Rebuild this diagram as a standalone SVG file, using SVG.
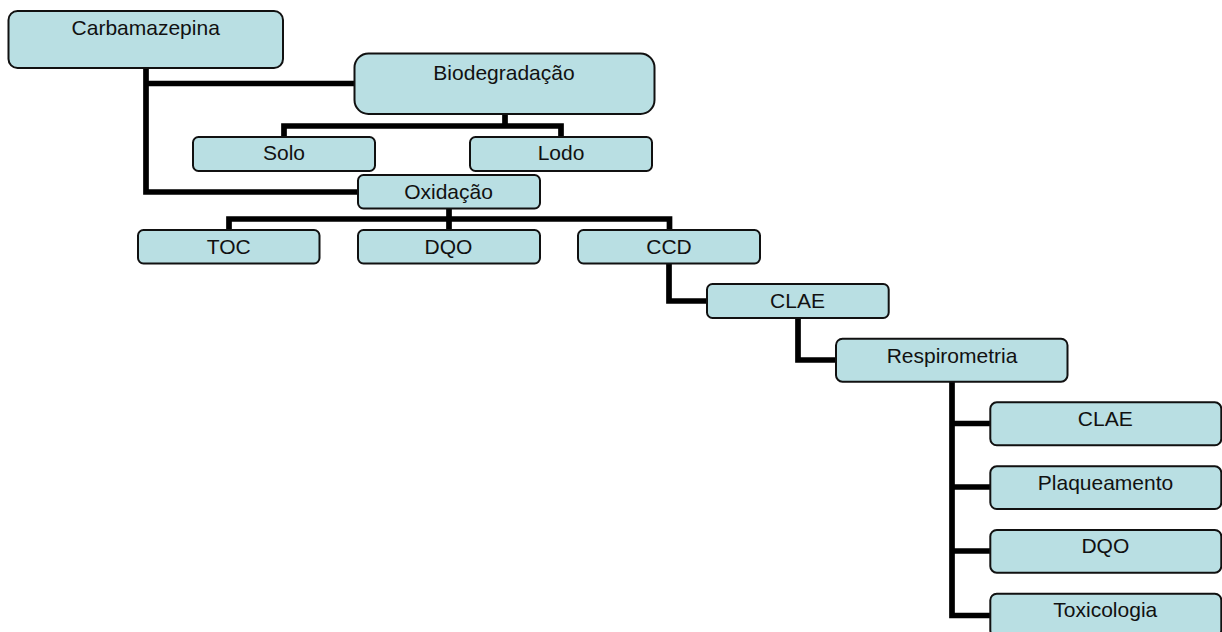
<svg xmlns="http://www.w3.org/2000/svg" width="1222" height="632" viewBox="0 0 1222 632">
<style>
.box{fill:#b9dfe3;stroke:#111;stroke-width:2}
.lbl{font-family:"Liberation Sans",Arial,sans-serif;font-size:21px;fill:#111;text-anchor:middle}
.conn{fill:none;stroke:#000;stroke-width:5.700;stroke-linejoin:miter}
</style>
<rect width="1222" height="632" fill="#fff"/>
<g id="connectors">
<path class="conn" d="M146 68V192H358M146 83.500H355"/>
<path class="conn" d="M505 114V126M284 137V126H561V137"/>
<path class="conn" d="M449 209V230M229 230V219H669.500V230"/>
<path class="conn" d="M669 263V301H707"/>
<path class="conn" d="M798 318V360H836"/>
<path class="conn" d="M952 382V615.500H990M952 423.500H990M952 487H990M952 551H990"/>
</g>
<g id="carbamazepina"><rect class="box" x="8.500" y="11" width="274.500" height="57" rx="9"/><text class="lbl" x="145.700" y="35">Carbamazepina</text></g>
<g id="biodegradacao"><rect class="box" x="354.500" y="53.500" width="300" height="60.500" rx="14"/><text class="lbl" x="504" y="80">Biodegradação</text></g>
<g id="solo"><rect class="box" x="193" y="137" width="182" height="34" rx="5.500"/><text class="lbl" x="284" y="160">Solo</text></g>
<g id="lodo"><rect class="box" x="470" y="137" width="182" height="34" rx="5.500"/><text class="lbl" x="561" y="160">Lodo</text></g>
<g id="oxidacao"><rect class="box" x="358" y="175" width="182" height="33.500" rx="5.500"/><text class="lbl" x="448.500" y="198.500">Oxidação</text></g>
<g id="toc"><rect class="box" x="138" y="230" width="181.500" height="33.500" rx="5.500"/><text class="lbl" x="228.700" y="254">TOC</text></g>
<g id="dqo1"><rect class="box" x="358" y="230" width="182" height="33.500" rx="5.500"/><text class="lbl" x="448.500" y="254">DQO</text></g>
<g id="ccd"><rect class="box" x="578" y="230" width="182" height="33.500" rx="5.500"/><text class="lbl" x="669" y="254">CCD</text></g>
<g id="clae1"><rect class="box" x="707" y="284" width="181.700" height="34" rx="5.500"/><text class="lbl" x="797.500" y="307.500">CLAE</text></g>
<g id="respirometria"><rect class="box" x="836" y="338.700" width="231.500" height="43" rx="6.500"/><text class="lbl" x="952" y="362.500">Respirometria</text></g>
<g id="clae2"><rect class="box" x="990.300" y="402.300" width="231" height="43" rx="6.500"/><text class="lbl" x="1105.300" y="425.500">CLAE</text></g>
<g id="plaqueamento"><rect class="box" x="990.300" y="466.300" width="231" height="42.700" rx="6.500"/><text class="lbl" x="1105.500" y="489.500">Plaqueamento</text></g>
<g id="dqo2"><rect class="box" x="990.300" y="530" width="231" height="42.700" rx="6.500"/><text class="lbl" x="1105.300" y="552.700">DQO</text></g>
<g id="toxicologia"><rect class="box" x="990.300" y="593.700" width="231" height="43" rx="6.500"/><text class="lbl" x="1105.300" y="616.700">Toxicologia</text></g>
</svg>
